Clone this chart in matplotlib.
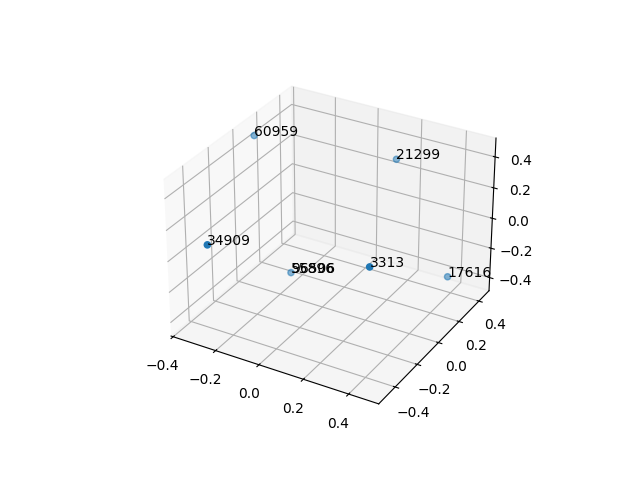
import matplotlib
matplotlib.use("Agg")
import matplotlib.pyplot as plt

labels = ['60959', '21299', '34909', '55896', '96506', '3313', '17616']
xs = [-0.31, 0.195, -0.23, -0.12, -0.12, 0.33, 0.49]
ys = [0.00, 0.28, -0.53, -0.05, -0.05, -0.23, 0.16]
zs = [0.515, 0.39, 0.175, -0.275, -0.275, 0.075, -0.18]

fig = plt.figure(figsize=(6.4, 4.8), dpi=100)
ax = fig.add_subplot(projection='3d')
ax.scatter(xs, ys, zs)
for x, y, z, s in zip(xs, ys, zs, labels):
    ax.text(x, y, z, s)
ax.set_xlim(-0.41, 0.53)
ax.set_ylim(-0.545, 0.505)
ax.set_zlim(-0.49, 0.52)
ax.set_xticks([-0.4, -0.2, 0.0, 0.2, 0.4])
ax.set_yticks([-0.4, -0.2, 0.0, 0.2, 0.4])
ax.set_zticks([-0.4, -0.2, 0.0, 0.2, 0.4])
fig.savefig('out.png', dpi=100)
